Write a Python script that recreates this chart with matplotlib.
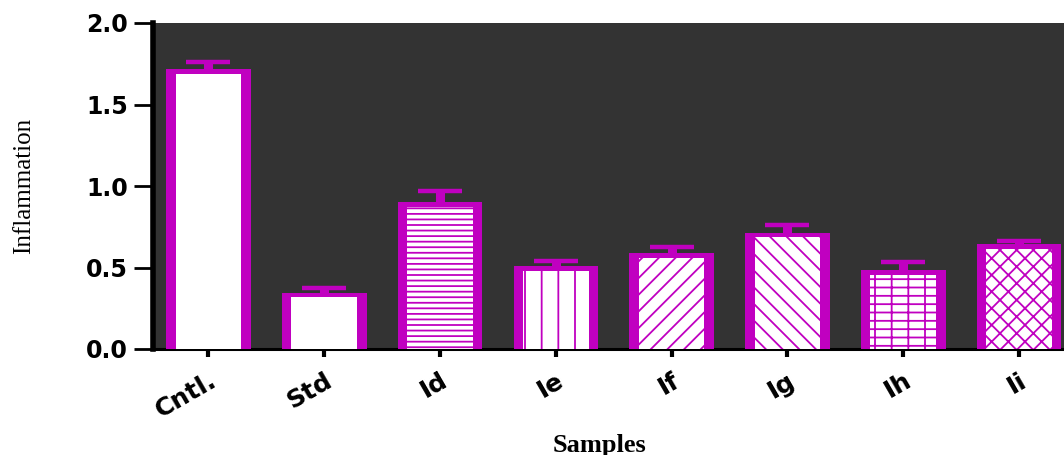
import matplotlib.pyplot as plt
import matplotlib.transforms as mtransforms
import numpy as np

samples = ["Cntl.", "Std", "Id", "Ie", "If", "Ig", "Ih", "Ii"]
inflammation = [1.718, 0.346, 0.901, 0.510, 0.588, 0.714, 0.485, 0.645]
sem = [0.045, 0.031, 0.071, 0.031, 0.037, 0.048, 0.051, 0.020]
hatches = ["", "", "---", "|", "//", "\\\\", "+-", "xx"]

mag = "#C000C0"
plt.rcParams['hatch.linewidth'] = 1.3

fig = plt.figure(figsize=(10.64, 4.55), dpi=100)
ax = fig.add_axes([153 / 1064, 106 / 455, 911 / 1064, 326 / 455])
ax.set_facecolor("#333333")

x = np.arange(len(samples))
vals = np.array(inflammation)
# symmetric bars drawn under the columns, so only the upper half shows
ax.errorbar(x, vals, yerr=sem, fmt="none",
            ecolor=mag, elinewidth=6.5, capsize=16, capthick=3.2, zorder=2)
# magenta frame, then the white hatched inside
ax.bar(x, vals, width=0.73, color=mag, linewidth=0, zorder=3)
inner = ax.bar(x, vals - 0.029, width=0.567, color="white", edgecolor=mag,
               linewidth=0, zorder=4)
for b, h in zip(inner, hatches):
    b.set_hatch(h)

ax.set_xlim(-0.479, 7.388)
ax.set_ylim(0, 2.0)
ax.set_yticks([0, 0.5, 1.0, 1.5, 2.0])
ax.set_yticklabels(["0.0", "0.5", "1.0", "1.5", "2.0"],
                   fontsize=17, fontweight="bold")
ax.set_xticks(x)
ax.set_xticklabels(samples, rotation=30, ha="right", rotation_mode="anchor",
                   fontsize=18, fontweight="bold")
shift = mtransforms.ScaledTranslation(14 / 100, 0, fig.dpi_scale_trans)
for lab in ax.get_xticklabels():
    lab.set_transform(lab.get_transform() + shift)

for s in ["top", "right"]:
    ax.spines[s].set_visible(False)
ax.spines["left"].set_linewidth(4)
ax.spines["bottom"].set_linewidth(2.2)
ax.tick_params(axis="y", length=14, width=2, pad=4)
ax.tick_params(axis="x", length=6, width=3, pad=8)

ax.set_ylabel("Inflammation", family="Liberation Serif", fontsize=18)
ax.yaxis.set_label_coords(-0.129, 0.5)
ax.set_xlabel("Samples", family="Liberation Serif", fontsize=19,
              fontweight="bold")
ax.xaxis.set_label_coords(0.49, -0.26)

fig.savefig("out.png", dpi=100)
